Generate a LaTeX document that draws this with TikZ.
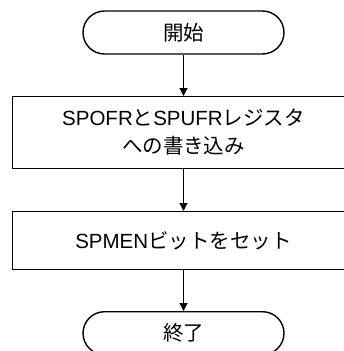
\documentclass[tikz,border=0pt]{standalone}
\usepackage{fontspec}
\setmainfont{Liberation Sans}
\newfontfamily\cjk{Noto Sans CJK JP}
\usetikzlibrary{arrows.meta}
\begin{document}
\begin{tikzpicture}[x=1pt,y=-1pt,
  every node/.style={font=\fontsize{20.5}{28}\selectfont, align=center, inner sep=0pt},
  term/.style={draw, line width=1.4pt, rounded corners=21.5pt, minimum width=201pt, minimum height=43pt},
  procbox/.style={draw, line width=1.4pt, minimum width=342.4pt},
  flow/.style={draw, line width=1.2pt, -{Triangle[length=8pt,width=8pt]}}
]
\useasboundingbox (0,0) rectangle (344,351);
\begin{scope}
\clip (0,0) rectangle (344,351);
\node[term] (start) at (183.5,32.5) {\cjk 開始};
\node[procbox, minimum height=71.6pt] (p1) at (183.5,132.5)
  {SPOFR{\cjk と}SPUFR{\cjk レジスタ}\\{\cjk への書き込み}};
\node[procbox, minimum height=57.6pt] (p2) at (183.5,240.5)
  {SPMEN{\cjk ビットをセット}};
\node[term] (stop) at (183.5,333.2) {\cjk 終了};
\draw[flow] (start) -- (p1);
\draw[flow] (p1) -- (p2);
\draw[flow] (p2) -- (stop);
\end{scope}
\end{tikzpicture}
\end{document}
